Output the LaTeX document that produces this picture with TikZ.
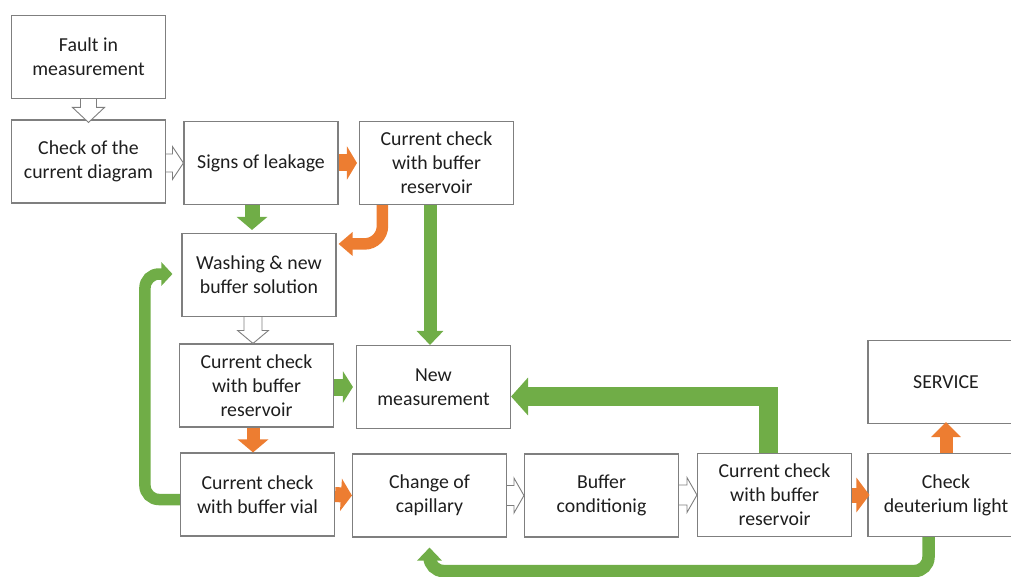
\documentclass[tikz,border=0pt]{standalone}
\usepackage{fontspec}
\setmainfont{Carlito}
\usetikzlibrary{arrows.meta,calc}
\definecolor{agreen}{HTML}{70AD47}
\definecolor{aorange}{HTML}{ED7D31}
\definecolor{bordergray}{HTML}{7F7F7F}
\definecolor{txtgray}{HTML}{1E1E1E}
\begin{document}
\begin{tikzpicture}[x=1pt,y=-1pt,
 box/.style={draw=bordergray, line width=1.1pt, fill=white, align=center, inner sep=0pt,
   minimum width=154pt, minimum height=83pt, text=txtgray, font=\fontsize{19.8}{24}\selectfont},
 hollow/.style={draw=bordergray, fill=white, line width=0.9pt, line join=miter},
 garr/.style={draw=agreen, line width=15pt, line join=miter, -{Triangle[width=30pt,length=13pt]}},
 oarr/.style={draw=aorange, line width=15pt, line join=miter, -{Triangle[width=32pt,length=11pt]}},
 gloop/.style={draw=agreen, line width=11.5pt, rounded corners=14pt, -{Triangle[width=23pt,length=11pt]}},
]
\useasboundingbox (0,0) rectangle (1011,577);

% boxes
\node[box] (b1) at (88.5,57) {Fault in\\measurement};
\node[box] (b2) at (88.5,161.5) {Check of the\\current diagram};
\node[box] (b3) at (261,163) {Signs of leakage};
\node[box] (b4) at (436.5,163) {Current check\\with buffer\\reservoir};
\node[box] (b5) at (259,275) {Washing \& new\\buffer solution};
\node[box] (b6) at (256.5,385.5) {Current check\\with buffer\\reservoir};
\node[box] (b7) at (257.5,494.5) {Current check\\with buffer vial};
\node[box] (b8) at (433.5,387) {New\\measurement};
\node[box] (b9) at (429.5,495.5) {Change of\\capillary};
\node[box] (b10) at (601.5,495.5) {Buffer\\conditionig};
\node[box] (b11) at (774.5,495) {Current check\\with buffer\\reservoir};
\node[box, minimum width=156pt] (b12) at (946,495) {Check\\deuterium light};
\node[box, minimum width=156pt] (b13) at (946,382) {SERVICE};

% hollow arrows
\draw[hollow] let \p1=(b1.south), \p2=(b2.north) in
  (\x1-8,\y1) -- (\x1-8,\y2+12) -- (\x1-16,\y2+12) -- (\x1,\y2-3) -- (\x1+16,\y2+12) -- (\x1+8,\y2+12) -- (\x1+8,\y1);
\draw[hollow] let \p1=(b2.east), \p2=(b3.west) in
  (\x1,\y2+9) -- (\x2-11,\y2+9) -- (\x2-11,\y2+16.5) -- (\x2,\y2) -- (\x2-11,\y2-16.5) -- (\x2-11,\y2-9) -- (\x1,\y2-9);
\draw[hollow] let \p1=(b5.south), \p2=(b6.north) in
  (\x2-12.5,\y1) -- (\x2-12.5,\y2+13) -- (\x2-19,\y2+13) -- (\x2-3.5,\y2) -- (\x2+12,\y2+13) -- (\x2+5.5,\y2+13) -- (\x2+5.5,\y1);
\draw[hollow] let \p1=(b9.east), \p2=(b10.west) in
  (\x1,\y2+10) -- (\x2-10,\y2+10) -- (\x2-10,\y2+17.5) -- (\x2,\y2) -- (\x2-10,\y2-17.5) -- (\x2-10,\y2-10) -- (\x1,\y2-10);
\draw[hollow] let \p1=(b10.east), \p2=(b11.west) in
  (\x1,\y2+10) -- (\x2-10,\y2+10) -- (\x2-10,\y2+17.5) -- (\x2,\y2) -- (\x2-10,\y2-17.5) -- (\x2-10,\y2-10) -- (\x1,\y2-10);

% straight coloured arrows
\draw[garr] ($(b3.south)+(-9,0)$) -- ($(b5.north)+(-7,-3)$);
\draw[oarr, line width=17pt, -{Triangle[width=33pt,length=10pt]}] (b3.east) -- ($(b4.west)+(-2,0)$);
\draw[garr, line width=13pt, -{Triangle[width=26pt,length=14pt]}] ($(b4.south)+(-6.5,0)$) -- ($(b8.north)+(-3.5,0)$);
\draw[garr, line width=17pt, -{Triangle[width=31pt,length=10pt]}] ($(b6.east)+(0,1.5)$) -- ($(b8.west)+(-3,0)$);
\draw[oarr, line width=13pt, -{Triangle[width=30pt,length=13pt]}] ($(b6.south)+(-3.5,0)$) -- ($(b7.north)+(-4.5,0)$);
\draw[oarr, line width=15pt, -{Triangle[width=32pt,length=11pt]}] (b7.east) -- (b9.west);
\draw[oarr, line width=15pt, -{Triangle[width=34pt,length=13pt]}] (b11.east) -- ($(b12.west)+(2,0)$);
\draw[oarr, line width=13pt, -{Triangle[width=29pt,length=15pt]}] (b12.north) -- ($(b13.south)+(0,-2)$);

% bent arrows
\draw[oarr, line width=11.5pt, rounded corners=18pt, -{Triangle[width=23pt,length=14pt]}]
  ($(b4.south west)+(23.5,0)$) |- ($(b5.north east)+(2,11)$);
\draw[gloop] ($(b7.west)+(0,5)$) -- ($(b7.west)+(-35,5)$) |- ($(b5.west)+(-9,-1)$);
\draw[garr, line width=19pt, -{Triangle[width=37pt,length=17pt]}]
  ($(b11.north)+(-6,0)$) |- ($(b8.east)+(0,9.5)$);
\draw[gloop, line width=12.5pt, -{Triangle[width=24pt,length=13pt]}]
  ($(b12.south)+(-17.5,0)$) -- ($(b12.south)+(-17.5,34)$) -| ($(b9.south)+(0,10)$);
\end{tikzpicture}
\end{document}
